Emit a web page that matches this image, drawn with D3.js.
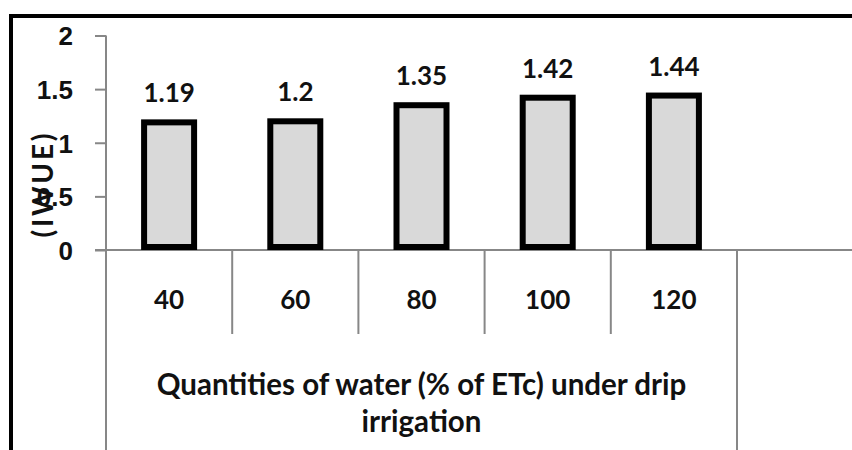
<!DOCTYPE html>
<html>
<head>
<meta charset="utf-8">
<script src="https://cdn.jsdelivr.net/npm/d3@7.9.0/dist/d3.min.js"></script>
<style>
  html, body { margin: 0; padding: 0; background: #fff; }
  svg { display: block; font-family: Lato, "Open Sans", sans-serif; }
</style>
</head>
<body>
<div id="chart"></div>
<script>
// data
const categories = ["40", "60", "80", "100", "120"];
const iwue = [1.19, 1.2, 1.35, 1.42, 1.44];
const yTicks = [0, 0.5, 1, 1.5, 2];
const yLabel = "(IWUE)";
const xTitle = ["Quantities of water (% of ETc) under drip", "irrigation"];

const width = 852, height = 450;
const axisGray = "#878787";

const svg = d3.select("#chart").append("svg")
  .attr("width", width)
  .attr("height", height);

// frame: only left and top edges show
svg.append("path")
  .attr("d", `M11,${height} V16 H${width}`)
  .attr("fill", "none")
  .attr("stroke", "#000")
  .attr("stroke-width", 4);

const x = d3.scaleBand()
  .domain(categories.concat(["_blank"]))
  .range([106, 737 + 126.2])
  .paddingInner(0)
  .paddingOuter(0);

const y = d3.scaleLinear()
  .domain([0, 2])
  .range([250, 35.5]);

// =========================================
// Y AXIS
// =========================================
const yAxis = svg.append("g")
  .attr("transform", "translate(106,0)")
  .call(d3.axisLeft(y).tickValues(yTicks).tickSize(11).tickFormat(d3.format("")));

yAxis.select(".domain").remove();
yAxis.selectAll(".tick line").attr("stroke", axisGray).attr("stroke-width", 2);
yAxis.selectAll(".tick text")
  .attr("x", -33)
  .attr("dy", "0.36em")
  .attr("fill", "#111")
  .style("font-size", "26px")
  .style("font-weight", "bold");

svg.append("line")
  .attr("x1", 106).attr("x2", 106)
  .attr("y1", y(2)).attr("y2", height)
  .attr("stroke", axisGray)
  .attr("stroke-width", 2);

// x axis baseline, runs to the right edge
svg.append("line")
  .attr("x1", 95).attr("x2", width)
  .attr("y1", y(0)).attr("y2", y(0))
  .attr("stroke", axisGray)
  .attr("stroke-width", 2);

// category dividers (table look)
const step = x.step();
const dividers = categories.map((c, i) => x(c) + step);
svg.append("g")
  .selectAll("line")
  .data(dividers)
  .join("line")
  .attr("x1", d => d).attr("x2", d => d)
  .attr("y1", y(0))
  .attr("y2", (d, i) => i === dividers.length - 1 ? height : 334)
  .attr("stroke", axisGray)
  .attr("stroke-width", 2);

// category labels
svg.append("g")
  .selectAll("text")
  .data(categories)
  .join("text")
  .attr("x", d => x(d) + step / 2)
  .attr("y", 309)
  .attr("text-anchor", "middle")
  .attr("fill", "#111")
  .style("font-size", "26px")
  .style("font-weight", "bold")
  .text(d => d);

// axis title under the categories
const titleX = (106 + dividers[dividers.length - 1]) / 2;
svg.append("text")
  .attr("text-anchor", "middle")
  .attr("fill", "#111")
  .style("font-size", "29.5px")
  .style("font-weight", "bold")
  .selectAll("tspan")
  .data(xTitle)
  .join("tspan")
  .attr("x", titleX)
  .attr("y", (d, i) => 395 + i * 37)
  .text(d => d);

// y label
svg.append("text")
  .attr("transform", "translate(53,185.5) rotate(-90)")
  .attr("text-anchor", "middle")
  .attr("fill", "#111")
  .attr("textLength", 104)
  .attr("lengthAdjust", "spacing")
  .style("font-size", "28px")
  .style("font-weight", "bold")
  .text(yLabel);

// =========================================
// BARS
// =========================================
const barW = 50;
const data = categories.map((c, i) => ({ cat: c, value: iwue[i] }));

svg.append("g")
  .selectAll("rect")
  .data(data)
  .join("rect")
  .attr("x", d => x(d.cat) + step / 2 - barW / 2)
  .attr("width", barW)
  .attr("y", d => y(d.value))
  .attr("height", d => y(0) - y(d.value) - 3)
  .attr("fill", "#d9d9d9")
  .attr("stroke", "#000")
  .attr("stroke-width", 6);

svg.append("g")
  .selectAll("text")
  .data(data)
  .join("text")
  .attr("x", d => x(d.cat) + step / 2)
  .attr("y", d => y(d.value) - 20)
  .attr("text-anchor", "middle")
  .attr("fill", "#111")
  .style("font-size", "26px")
  .style("font-weight", "bold")
  .text(d => d.value);
</script>
</body>
</html>
